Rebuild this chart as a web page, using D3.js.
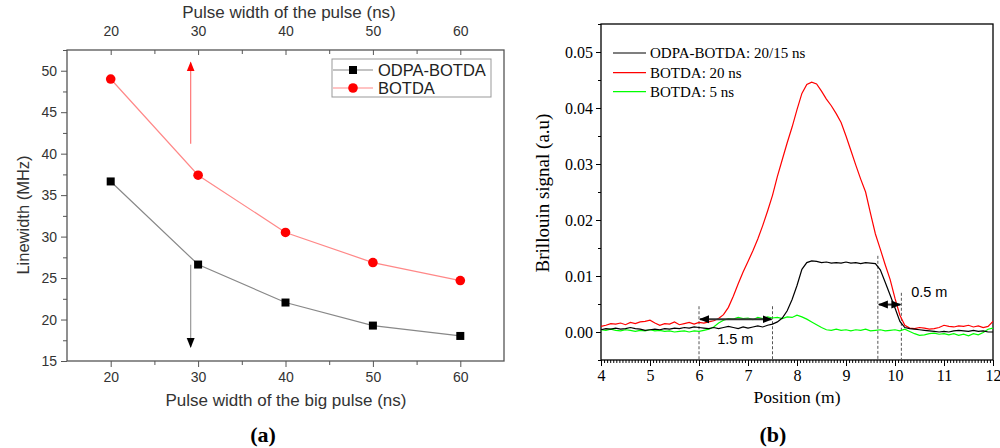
<!DOCTYPE html>
<html>
<head>
<meta charset="utf-8">
<script src="https://cdn.jsdelivr.net/npm/d3@7"></script>
<style>
  body { margin: 0; background: #fff; }
  svg { display: block; }
</style>
</head>
<body>
<svg id="chart_svg" width="1000" height="448"></svg>
<script>
// ---- panel (a) data ----
var bigPulse = [20, 30, 40, 50, 60];
var odpaLinewidth = [36.65, 26.63, 22.05, 19.27, 18.02];
var botdaLinewidth = [49.0, 37.4, 30.5, 26.87, 24.7];
var seriesA = ["ODPA-BOTDA", "BOTDA"];
var xTicksA = [20, 30, 40, 50, 60];
var yTicksA = [15, 20, 25, 30, 35, 40, 45, 50];
// arrows: [x, fromY, toY]
var arrowsA = [[29.15, 41.2, 51.0], [29.15, 26.6, 16.7]];

// ---- panel (b) data ----
var position = [4.0, 4.1, 4.2, 4.3, 4.4, 4.5, 4.6, 4.7, 4.8, 4.9,
    5.0, 5.1, 5.2, 5.3, 5.4, 5.5, 5.6, 5.7, 5.8, 5.9,
    6.0, 6.1, 6.2, 6.3, 6.4, 6.5, 6.6, 6.7, 6.8, 6.9,
    7.0, 7.1, 7.2, 7.3, 7.4, 7.5, 7.6, 7.7, 7.8, 7.9,
    8.0, 8.1, 8.2, 8.3, 8.4, 8.5, 8.6, 8.7, 8.8, 8.9,
    9.0, 9.1, 9.2, 9.3, 9.4, 9.5, 9.6, 9.7, 9.8, 9.9,
    10.0, 10.1, 10.2, 10.3, 10.4, 10.5, 10.6, 10.7, 10.8, 10.9,
    11.0, 11.1, 11.2, 11.3, 11.4, 11.5, 11.6, 11.7, 11.8, 11.9, 12.0];
var odpaSignal = [0.0004, 0.0006, 0.0005, 0.0007, 0.0005, 0.0006, 0.0008, 0.0006, 0.0005, 0.0003,
    0.0004, 0.0005, 0.0004, 0.0006, 0.0005, 0.0007, 0.0006, 0.0008, 0.0007, 0.0009,
    0.0008, 0.0007, 0.0006, 0.0008, 0.0006, 0.0008, 0.0010, 0.0008, 0.0006, 0.0009,
    0.0007, 0.0009, 0.0011, 0.0009, 0.0012, 0.0014, 0.0018, 0.0025, 0.0038, 0.0058,
    0.0083, 0.0112, 0.0124, 0.0127, 0.0126, 0.0124, 0.0125, 0.0123, 0.0124, 0.0123,
    0.0125, 0.0123, 0.0124, 0.0122, 0.0124, 0.0123, 0.0122, 0.0111, 0.0089, 0.0066,
    0.0043, 0.0019, 0.0008, 0.0006, 0.0005, 0.0004, 0.0003, 0.0002, 0.0001, 0.0000,
    0.0001, 0.0000, 0.0002, 0.0003, 0.0002, 0.0001, 0.0003, 0.0001, 0.0002, 0.0000, 0.0000];
var botda20Signal = [0.0010, 0.0012, 0.0015, 0.0014, 0.0016, 0.0013, 0.0017, 0.0015, 0.0018, 0.0019,
    0.0021, 0.0016, 0.0012, 0.0015, 0.0014, 0.0018, 0.0013, 0.0015, 0.0017, 0.0014,
    0.0017, 0.0016, 0.0018, 0.0020, 0.0024, 0.0031, 0.0044, 0.0064, 0.0086, 0.0107,
    0.0126, 0.0145, 0.0166, 0.0190, 0.0216, 0.0244, 0.0278, 0.0308, 0.0338, 0.0366,
    0.0397, 0.0426, 0.0442, 0.0446, 0.0443, 0.0430, 0.0416, 0.0404, 0.0390, 0.0374,
    0.0350, 0.0324, 0.0298, 0.0273, 0.0250, 0.0212, 0.0175, 0.0148, 0.0120, 0.0094,
    0.0060, 0.0030, 0.0012, 0.0007, 0.0006, 0.0008, 0.0007, 0.0005, 0.0006, 0.0008,
    0.0012, 0.0010, 0.0009, 0.0011, 0.0010, 0.0012, 0.0009, 0.0011, 0.0008, 0.0010, 0.0019];
var botda5Signal = [0.0004, 0.0003, 0.0005, 0.0003, 0.0002, 0.0004, 0.0003, 0.0001, 0.0003, 0.0002,
    0.0004, 0.0002, 0.0003, 0.0001, 0.0002, 0.0000, 0.0001, 0.0002, 0.0000, 0.0002,
    0.0001, 0.0003, 0.0005, 0.0009, 0.0016, 0.0021, 0.0024, 0.0023, 0.0026, 0.0024,
    0.0025, 0.0022, 0.0026, 0.0024, 0.0027, 0.0025, 0.0026, 0.0024, 0.0027, 0.0026,
    0.0030, 0.0027, 0.0023, 0.0018, 0.0013, 0.0008, 0.0004, 0.0003, 0.0005, 0.0003,
    0.0004, 0.0002, 0.0004, 0.0003, 0.0005, 0.0002, 0.0003, 0.0004, 0.0002, 0.0003,
    0.0004, 0.0002, 0.0005, 0.0001, -0.0003, -0.0006, -0.0005, -0.0003, -0.0002, -0.0004,
    -0.0003, -0.0005, -0.0003, -0.0006, -0.0004, -0.0007, -0.0003, -0.0005, -0.0001, 0.0005, 0.0007];
var seriesB = ["ODPA-BOTDA: 20/15 ns", "BOTDA: 20 ns", "BOTDA: 5 ns"];
var xTicksB = [4, 5, 6, 7, 8, 9, 10, 11, 12];
var yTicksB = [0.00, 0.01, 0.02, 0.03, 0.04, 0.05];
// dashed markers: [x, topY]
var guidesB = [[6.0, 0.0046], [7.5, 0.0046], [9.65, 0.0136], [10.13, 0.0070]];
// spans: [x0, x1, y, label, labelX, labelY]
var spansB = [[6.0, 7.5, 0.00227, "1.5 m", 6.74, -0.00125], [9.65, 10.13, 0.0049, "0.5 m", 10.7, 0.0072]];

var svg, xA, yA, xB, yB;
var sans = "'Liberation Sans', Arial, sans-serif";
var serif = "'Liberation Serif', 'Times New Roman', serif";

document.addEventListener('DOMContentLoaded', function () {
    svg = d3.select("#chart_svg");
    var defs = svg.append("defs");
    addHead(defs, "headRed", "#f00");
    addHead(defs, "headBlack", "#000");

    xA = d3.scaleLinear().domain([15, 65]).range([67, 504]);
    yA = d3.scaleLinear().domain([15, 52.5]).range([361, 50]);
    xB = d3.scaleLinear().domain([4, 12]).range([601, 993]);
    yB = d3.scaleLinear().domain([-0.005, 0.055]).range([360, 24]);

    drawPanelA();
    drawPanelB();
});

function addHead(defs, id, color){
    defs.append("marker")
        .attr("id", id)
        .attr("viewBox", "0 0 10 10")
        .attr("refX", 9).attr("refY", 5)
        .attr("markerWidth", 10).attr("markerHeight", 10)
        .attr("markerUnits", "userSpaceOnUse")
        .attr("orient", "auto-start-reverse")
        .append("path")
        .attr("d", "M0,1 L10,5 L0,9 Z")
        .attr("fill", color);
}

function styleAxis(g, color, font, size, textColor){
    g.select(".domain").remove();
    g.selectAll("line").attr("stroke", color).attr("stroke-width", 1);
    g.selectAll("text").attr("font-family", font).attr("font-size", size).attr("fill", textColor);
}

function drawPanelA(){
    var g = svg.append("g");
    var axisColor = "#555";
    var minorX = [25, 35, 45, 55];
    var minorY = [17.5, 22.5, 27.5, 32.5, 37.5, 42.5, 47.5, 52.5];

    // minor ticks
    g.append("g").attr("transform", "translate(0,361)")
        .call(d3.axisBottom(xA).tickValues(minorX).tickSize(4).tickFormat(""))
        .call(s => styleAxis(s, axisColor, sans, 14, "#333"));
    g.append("g").attr("transform", "translate(0,50)")
        .call(d3.axisBottom(xA).tickValues(minorX).tickSize(4).tickFormat(""))
        .call(s => styleAxis(s, axisColor, sans, 14, "#333"));
    g.append("g").attr("transform", "translate(67,0)")
        .call(d3.axisLeft(yA).tickValues(minorY).tickSize(4).tickFormat(""))
        .call(s => styleAxis(s, axisColor, sans, 14, "#333"));

    // major ticks
    g.append("g").attr("transform", "translate(0,361)")
        .call(d3.axisBottom(xA).tickValues(xTicksA).tickSize(6).tickPadding(5))
        .call(s => styleAxis(s, axisColor, sans, 14, "#333"));
    g.append("g").attr("transform", "translate(0,50)")
        .call(d3.axisTop(xA).tickValues(xTicksA).tickSize(-5).tickPadding(14))
        .call(s => styleAxis(s, axisColor, sans, 14, "#333"));
    g.append("g").attr("transform", "translate(67,0)")
        .call(d3.axisLeft(yA).tickValues(yTicksA).tickSize(6).tickPadding(4))
        .call(s => styleAxis(s, axisColor, sans, 14, "#333"));

    // frame
    g.append("rect")
        .attr("x", xA(15)).attr("y", yA(52.5))
        .attr("width", xA(65) - xA(15)).attr("height", yA(15) - yA(52.5))
        .attr("fill", "none").attr("stroke", axisColor).attr("stroke-width", 1.3);

    // axis titles
    g.append("text").attr("x", 286).attr("y", 406).attr("text-anchor", "middle")
        .attr("font-family", sans).attr("font-size", 17).attr("fill", "#333")
        .text("Pulse width of the big pulse (ns)");
    g.append("text").attr("x", 289).attr("y", 18).attr("text-anchor", "middle")
        .attr("font-family", sans).attr("font-size", 17).attr("fill", "#333")
        .text("Pulse width of the pulse (ns)");
    g.append("text").attr("transform", "translate(29,215) rotate(-90)").attr("text-anchor", "middle")
        .attr("font-family", sans).attr("font-size", 16.5).attr("fill", "#333")
        .text("Linewidth (MHz)");

    // arrows
    g.selectAll(".arrowA")
        .data(arrowsA)
        .enter()
        .append("line")
        .attr("x1", d => xA(d[0])).attr("x2", d => xA(d[0]))
        .attr("y1", d => yA(d[1])).attr("y2", d => yA(d[2]))
        .attr("stroke", (d, i) => i == 0 ? "#f77" : "#999")
        .attr("stroke-width", 1.2)
        .attr("marker-end", (d, i) => i == 0 ? "url(#headRed)" : "url(#headBlack)");

    var line = d3.line().x((d, i) => xA(bigPulse[i])).y(d => yA(d));
    g.append("path").attr("d", line(odpaLinewidth))
        .attr("fill", "none").attr("stroke", "#888").attr("stroke-width", 1.2);
    g.append("path").attr("d", line(botdaLinewidth))
        .attr("fill", "none").attr("stroke", "#f88").attr("stroke-width", 1.2);

    g.selectAll(".sq")
        .data(odpaLinewidth)
        .enter()
        .append("rect")
        .attr("x", (d, i) => xA(bigPulse[i]) - 4)
        .attr("y", d => yA(d) - 4)
        .attr("width", 8).attr("height", 8)
        .attr("fill", "#000");
    g.selectAll(".dot")
        .data(botdaLinewidth)
        .enter()
        .append("circle")
        .attr("cx", (d, i) => xA(bigPulse[i]))
        .attr("cy", d => yA(d))
        .attr("r", 4.8)
        .attr("fill", "#f00");

    // legend
    var lg = g.append("g");
    lg.append("rect").attr("x", 332).attr("y", 59).attr("width", 159).attr("height", 38)
        .attr("fill", "#fff").attr("stroke", "#999").attr("stroke-width", 1);
    var rows = lg.selectAll(".row").data(seriesA).enter().append("g")
        .attr("transform", (d, i) => "translate(0," + (70 + i * 18) + ")");
    rows.append("line").attr("x1", 333).attr("x2", 373)
        .attr("stroke", (d, i) => i == 0 ? "#888" : "#f88").attr("stroke-width", 1.2);
    rows.filter((d, i) => i == 0).append("rect")
        .attr("x", 349).attr("y", -4).attr("width", 8).attr("height", 8).attr("fill", "#000");
    rows.filter((d, i) => i == 1).append("circle")
        .attr("cx", 353).attr("r", 4.8).attr("fill", "#f00");
    rows.append("text").attr("x", 378).attr("dy", "0.36em")
        .attr("font-family", sans).attr("font-size", 16.5).attr("fill", "#222")
        .text(d => d);

    svg.append("text").attr("x", 263).attr("y", 442).attr("text-anchor", "middle")
        .attr("font-family", serif).attr("font-weight", "bold").attr("font-size", 22)
        .text("(a)");
}

function drawPanelB(){
    var g = svg.append("g");
    var minorX = [];
    for (var k = 0; k < xTicksB.length - 1; k++) {
        for (var m = 1; m < 16; m++) minorX.push(xTicksB[k] + m / 16);
    }
    var minorY = [-0.005, 0.005, 0.015, 0.025, 0.035, 0.045, 0.055];

    g.append("g").attr("transform", "translate(0,360)")
        .call(d3.axisBottom(xB).tickValues(minorX).tickSize(3).tickFormat(""))
        .call(s => styleAxis(s, "#000", serif, 16, "#000"));
    g.append("g").attr("transform", "translate(601,0)")
        .call(d3.axisLeft(yB).tickValues(minorY).tickSize(3).tickFormat(""))
        .call(s => styleAxis(s, "#000", serif, 16, "#000"));
    g.append("g").attr("transform", "translate(0,360)")
        .call(d3.axisBottom(xB).tickValues(xTicksB).tickSize(6).tickPadding(4))
        .call(s => styleAxis(s, "#000", serif, 16, "#000"));
    g.append("g").attr("transform", "translate(601,0)")
        .call(d3.axisLeft(yB).tickValues(yTicksB).tickSize(5).tickPadding(3).tickFormat(d3.format(".2f")))
        .call(s => styleAxis(s, "#000", serif, 16, "#000"));

    g.append("rect")
        .attr("x", xB(4)).attr("y", yB(0.055))
        .attr("width", xB(12) - xB(4)).attr("height", yB(-0.005) - yB(0.055))
        .attr("fill", "none").attr("stroke", "#000").attr("stroke-width", 1.3);

    g.append("text").attr("x", 797).attr("y", 403).attr("text-anchor", "middle")
        .attr("font-family", serif).attr("font-size", 17.5).attr("fill", "#000")
        .text("Position (m)");
    g.append("text").attr("transform", "translate(549,193) rotate(-90)").attr("text-anchor", "middle")
        .attr("font-family", serif).attr("font-size", 19).attr("fill", "#000")
        .text("Brillouin signal (a.u)");

    // dashed guides
    g.selectAll(".guide")
        .data(guidesB)
        .enter()
        .append("line")
        .attr("x1", d => xB(d[0])).attr("x2", d => xB(d[0]))
        .attr("y1", d => yB(d[1])).attr("y2", yB(-0.005))
        .attr("stroke", "#555").attr("stroke-width", 1)
        .attr("stroke-dasharray", "3,2");

    var colors = ["#000", "#f00", "#0f0"];
    var signals = [botda5Signal, botda20Signal, odpaSignal];
    var sigColors = ["#0f0", "#f00", "#000"];
    var line = d3.line().x((d, i) => xB(position[i])).y(d => yB(d));
    g.selectAll(".sig")
        .data(signals)
        .enter()
        .append("path")
        .attr("d", d => line(d))
        .attr("fill", "none")
        .attr("stroke", (d, i) => sigColors[i])
        .attr("stroke-width", 1.2);

    // spans
    g.selectAll(".span")
        .data(spansB)
        .enter()
        .append("line")
        .attr("x1", d => xB(d[0]) + 1).attr("x2", d => xB(d[1]) - 1)
        .attr("y1", d => yB(d[2])).attr("y2", d => yB(d[2]))
        .attr("stroke", "#333").attr("stroke-width", 2)
        .attr("marker-start", "url(#headBlack)")
        .attr("marker-end", "url(#headBlack)");
    g.selectAll(".spanLabel")
        .data(spansB)
        .enter()
        .append("text")
        .attr("x", d => xB(d[4])).attr("y", d => yB(d[5]))
        .attr("dy", "0.36em").attr("text-anchor", "middle")
        .attr("font-family", sans).attr("font-size", 14.5).attr("fill", "#000")
        .text(d => d[3]);

    // legend
    var rows = g.selectAll(".lrow").data(seriesB).enter().append("g")
        .attr("transform", (d, i) => "translate(0," + [53, 72.7, 91.7][i] + ")");
    rows.append("line").attr("x1", 613).attr("x2", 646)
        .attr("stroke", (d, i) => colors[i]).attr("stroke-width", 1.2);
    rows.append("text").attr("x", 650).attr("dy", "0.34em")
        .attr("font-family", serif).attr("font-size", 15).attr("fill", "#000")
        .text(d => d);

    svg.append("text").attr("x", 773).attr("y", 442).attr("text-anchor", "middle")
        .attr("font-family", serif).attr("font-weight", "bold").attr("font-size", 22)
        .text("(b)");
}
</script>
</body>
</html>
